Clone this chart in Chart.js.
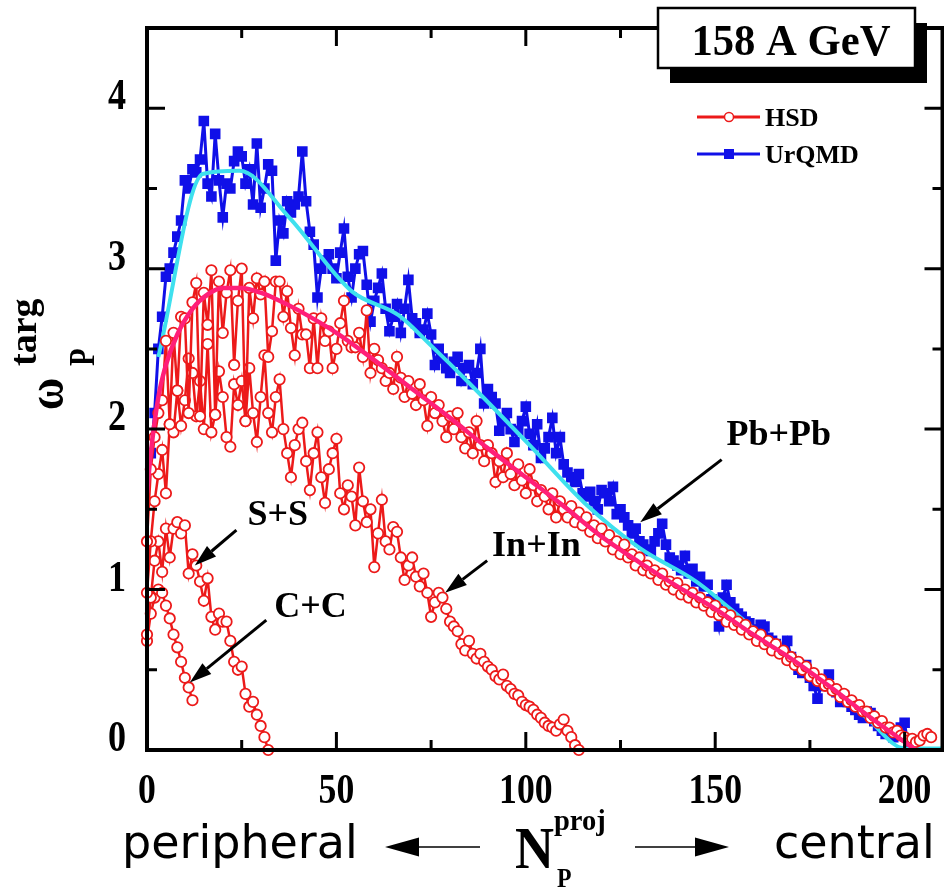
<!DOCTYPE html>
<html>
<head>
<meta charset="utf-8">
<script src="https://cdn.jsdelivr.net/npm/chart.js@4.4.1/dist/chart.umd.min.js"></script>
<style>
  html, body { margin: 0; padding: 0; background: #fff; overflow: hidden; }
  #wrap { width: 950px; height: 889px; }
</style>
</head>
<body>
<div id="wrap"><canvas id="chart" width="950" height="889"></canvas></div>
<script>
// omega_P^targ vs N_P^proj, 158 A GeV (HSD vs UrQMD)

// x ticks / y ticks
const xTickValues = [0, 25, 50, 75, 100, 125, 150, 175, 200];
const xTickLabels = ['0', '', '50', '', '100', '', '150', '', '200'];
const yTickValues = [0, 0.5, 1, 1.5, 2, 2.5, 3, 3.5, 4];
const yTickLabels = ['0', '', '1', '', '2', '', '3', '', '4'];

// HSD Pb+Pb, N_P^proj = 0,1,2,...
const pbHsdStart = 0;
const pbHsd = [
  1.3, 1.75, 1.95, 2.1, 2.18, 2.55, 2.03, 2.6, 2.24, 2.7,
  2.69, 2.1, 2.79, 2.91, 2.08, 2.85, 2.65, 2.99, 2.09, 2.92,
  2.6, 2.85, 2.99, 2.4, 2.8, 3.0, 2.05, 2.88, 2.69, 2.94,
  2.84, 2.92, 2.45, 2.61, 2.92, 2.92, 2.7, 2.86, 2.63, 2.46,
  2.75, 2.59, 2.59, 2.38, 2.69, 2.38, 2.69, 2.55, 2.61, 2.38,
  2.5, 2.66, 2.8, 2.55, 2.51, 2.51, 2.6, 2.45, 2.74, 2.35,
  2.5, 2.43, 2.38, 2.3, 2.35, 2.25, 2.45, 2.32, 2.2, 2.3,
  2.22, 2.15, 2.28, 2.18, 2.02, 2.2, 2.1, 2.15, 2.05, 1.95,
  2.08, 2.0, 2.1, 1.95, 1.88, 1.98, 1.85, 2.05, 1.9, 1.8,
  1.9, 1.85, 1.67, 1.8, 1.7, 1.85, 1.72, 1.65, 1.78, 1.68,
  1.6, 1.75, 1.65, 1.55, 1.62, 1.58, 1.5, 1.6, 1.45, 1.55,
  1.5, 1.45, 1.52, 1.42, 1.48, 1.4, 1.45, 1.36, 1.4, 1.32,
  1.38, 1.3, 1.34, 1.25, 1.3, 1.22, 1.28, 1.2, 1.22, 1.15,
  1.2, 1.12, 1.15, 1.1, 1.12, 1.06, 1.1, 1.03, 1.05, 1.0,
  1.04, 0.97, 1.0, 0.95, 0.98, 0.92, 0.95, 0.9, 0.92, 0.86,
  0.9, 0.84, 0.86, 0.8, 0.84, 0.78, 0.8, 0.75, 0.78, 0.72,
  0.74, 0.68, 0.72, 0.66, 0.68, 0.62, 0.66, 0.6, 0.62, 0.56,
  0.58, 0.53, 0.55, 0.5, 0.52, 0.46, 0.48, 0.43, 0.44, 0.4,
  0.41, 0.37, 0.38, 0.33, 0.35, 0.3, 0.31, 0.27, 0.28, 0.24,
  0.24, 0.2, 0.21, 0.17, 0.18, 0.14, 0.14, 0.11, 0.12, 0.09,
  0.08, 0.06, 0.07, 0.05, 0.06, 0.09, 0.1, 0.08
];

// HSD In+In
const inHsdStart = 0;
const inHsd = [
  0.98, 1.3, 1.55, 1.72, 1.87, 1.6, 2.03, 1.98, 2.24, 2.02,
  2.18, 2.44, 2.35, 2.08, 2.3, 2.0, 2.53, 1.98, 2.09, 2.36,
  2.2, 1.95, 1.89, 2.28, 2.15, 2.3, 2.05, 2.38, 2.1, 1.92,
  2.2, 2.46, 2.1, 1.98, 2.2, 2.31, 2.0, 1.85, 1.7, 1.9,
  2.0, 2.04, 1.8, 1.62, 1.85, 1.98, 1.7, 1.54, 1.75, 1.85,
  1.94, 1.6, 1.5, 1.65, 1.58, 1.4, 1.76, 1.55, 1.42, 1.5,
  1.14, 1.35, 1.56, 1.3, 1.25, 1.39, 1.36, 1.2, 1.06, 1.15,
  1.2, 1.08, 1.02, 1.1, 0.98, 0.83, 0.92, 0.98, 0.95, 0.88,
  0.8, 0.77, 0.74, 0.66, 0.62, 0.68, 0.6, 0.57, 0.6, 0.55,
  0.52, 0.5, 0.46, 0.44, 0.47, 0.4, 0.38, 0.35, 0.34, 0.3,
  0.28, 0.27, 0.25, 0.22, 0.2, 0.17, 0.15, 0.14, 0.12, 0.16,
  0.19, 0.12, 0.08, 0.03, 0.0
];

// HSD S+S
const ssHsdStart = 0;
const ssHsd = [
  0.72, 0.95, 1.18, 1.3, 1.11, 1.38, 1.2, 1.38, 1.42, 1.35,
  1.4, 1.1, 1.22, 1.15, 1.05, 0.93, 1.07, 0.83, 0.75, 0.85,
  0.8, 0.8, 0.68, 0.55, 0.5, 0.52, 0.35, 0.27, 0.3, 0.22,
  0.15, 0.08, 0.0
];

// HSD C+C
const ccHsdStart = 0;
const ccHsd = [0.68, 0.85, 0.95, 1.0, 0.98, 0.9, 0.82, 0.72, 0.64, 0.55, 0.45, 0.39, 0.31];

// UrQMD Pb+Pb, N_P^proj = 1,2,3,...
const pbUrqmdStart = 1;
const pbUrqmd = [
  1.85, 2.1, 2.5, 2.7, 2.95, 3.0, 3.1, 3.2, 3.3, 3.55,
  3.5, 3.62, 3.6, 3.68, 3.92, 3.53, 3.45, 3.84, 3.55, 3.32,
  3.53, 3.5, 3.67, 3.73, 3.7, 3.53, 3.62, 3.4, 3.78, 3.38,
  3.5, 3.65, 3.61, 3.05, 3.3, 3.22, 3.42, 3.35, 3.4, 3.45,
  3.73, 3.42, 3.23, 3.15, 2.82, 3.0, 3.05, 3.09, 3.0, 2.94,
  3.1, 3.25, 2.95, 2.82, 3.0, 3.09, 3.11, 2.9, 2.67, 2.8,
  2.88, 2.97, 2.75, 2.61, 2.7, 2.78, 2.6, 2.75, 2.93, 2.69,
  2.66, 2.6, 2.62, 2.72, 2.59, 2.4, 2.5, 2.44, 2.38, 2.35,
  2.42, 2.45, 2.3, 2.38, 2.4, 2.28, 2.35, 2.5, 2.16, 2.25,
  2.2, 2.16, 1.99, 2.05, 2.1, 2.0, 1.92, 1.99, 2.05, 2.14,
  1.97, 1.9, 2.03, 1.82, 1.88, 1.95, 2.07, 1.85, 1.95, 1.78,
  1.73, 1.7, 1.67, 1.72, 1.6, 1.58, 1.61, 1.55, 1.5, 1.62,
  1.6, 1.55, 1.64, 1.47, 1.5, 1.45, 1.4, 1.35, 1.38, 1.3,
  1.28, 1.25, 1.24, 1.3, 1.35, 1.41, 1.28, 1.2, 1.18, 1.15,
  1.12, 1.21, 1.1, 1.13, 1.05, 1.08, 1.02, 1.03, 0.94, 0.9,
  0.77, 0.95, 1.03, 0.92, 0.88, 0.85, 0.83, 0.8, 0.79, 0.75,
  0.72, 0.78, 0.77, 0.7, 0.68, 0.66, 0.62, 0.6, 0.68, 0.58,
  0.55, 0.5, 0.48, 0.53, 0.45, 0.4, 0.32, 0.4, 0.42, 0.47,
  0.38, 0.36, 0.3, 0.34, 0.3, 0.27, 0.25, 0.22, 0.2, 0.24,
  0.23, 0.18, 0.15, 0.12, 0.1, 0.12, 0.08, 0.1, 0.14, 0.17,
  0.0
];

// smooth curves
const urqmdFitX = [3, 14.7, 24.4, 37.5, 54, 66.4, 75, 84.5, 101, 115.5, 130, 145, 160, 175, 190, 200, 210];
const urqmdFitY = [2.45, 3.59, 3.61, 3.32, 2.86, 2.71, 2.52, 2.3, 1.9, 1.54, 1.26, 1.05, 0.76, 0.48, 0.2, 0.01, 0.01];
const hsdFitX = [0, 1, 3, 5, 8, 12, 16, 20, 25, 30, 35, 40, 50, 60, 70, 80, 90, 100, 110, 120, 130, 140, 150, 160, 170, 180, 190, 200, 203];
const hsdFitY = [1.6, 1.85, 2.2, 2.4, 2.59, 2.75, 2.84, 2.88, 2.88, 2.85, 2.8, 2.74, 2.6, 2.43, 2.25, 2.07, 1.88, 1.7, 1.52, 1.33, 1.17, 1.02, 0.88, 0.72, 0.57, 0.4, 0.22, 0.05, 0.0];

// text labels with arrows (data units)
const notes = [
  { text: 'Pb+Pb', tx: 153, ty: 1.9, from: [151.7, 1.81], to: [130.2, 1.42] },
  { text: 'In+In', tx: 91.1, ty: 1.21, from: [89.8, 1.18], to: [78.7, 0.98] },
  { text: 'S+S', tx: 26.5, ty: 1.4, from: [23.6, 1.37], to: [12.6, 1.15] },
  { text: 'C+C', tx: 33.6, ty: 0.83, from: [31.5, 0.81], to: [11.3, 0.42] }
];

const RED = '#ec1a1a';
const BLUE = '#1010e8';
const CYAN = '#3ee0ee';
const PINK = '#ff1f78';
const SERIF = '"Liberation Serif", "Times New Roman", serif';

function toPoints(start, ys) {
  return ys.map((v, i) => ({ x: start + i, y: v }));
}
function zipPoints(xs, ys) {
  return xs.map((v, i) => ({ x: v, y: ys[i] }));
}

function hsdSet(label, start, ys) {
  return {
    label: label,
    data: toPoints(start, ys),
    borderColor: RED,
    borderWidth: 2.5,
    pointStyle: 'circle',
    pointRadius: 5.2,
    pointBorderWidth: 1.8,
    pointBorderColor: RED,
    pointBackgroundColor: '#fff',
    order: 1,
    clip: false
  };
}

// draw text with horizontal squeeze (the original uses a condensed Times)
function txt(ctx, s, x, y, font, align, sx) {
  ctx.save();
  ctx.font = font;
  ctx.textAlign = align || 'left';
  ctx.textBaseline = 'alphabetic';
  ctx.translate(x, y);
  ctx.scale(sx || 1, 1);
  ctx.fillText(s, 0, 0);
  ctx.restore();
}

function arrow(ctx, x1, y1, x2, y2, head, half, lw) {
  const ang = Math.atan2(y2 - y1, x2 - x1);
  const bx = x2 - head * Math.cos(ang), by = y2 - head * Math.sin(ang);
  ctx.save();
  ctx.lineWidth = lw;
  ctx.beginPath();
  ctx.moveTo(x1, y1);
  ctx.lineTo(bx, by);
  ctx.stroke();
  ctx.beginPath();
  ctx.moveTo(x2, y2);
  ctx.lineTo(bx + half * Math.sin(ang), by - half * Math.cos(ang));
  ctx.lineTo(bx - half * Math.sin(ang), by + half * Math.cos(ang));
  ctx.closePath();
  ctx.fill();
  ctx.restore();
}

const framePlugin = {
  id: 'frame',
  afterDatasetsDraw(chart) {
    const { ctx, chartArea: a, scales: { x, y } } = chart;
    ctx.save();
    ctx.strokeStyle = '#000';
    ctx.lineWidth = 4;
    ctx.strokeRect(a.left, a.top, a.right - a.left, a.bottom - a.top);
    ctx.lineWidth = 3;
    xTickValues.forEach((v, i) => {
      const px = x.getPixelForValue(v);
      const len = xTickLabels[i] ? 18 : 10;
      ctx.beginPath();
      ctx.moveTo(px, a.bottom); ctx.lineTo(px, a.bottom - len);
      ctx.moveTo(px, a.top); ctx.lineTo(px, a.top + len);
      ctx.stroke();
    });
    yTickValues.forEach((v, i) => {
      const py = y.getPixelForValue(v);
      const len = yTickLabels[i] ? 18 : 10;
      ctx.beginPath();
      ctx.moveTo(a.left, py); ctx.lineTo(a.left + len, py);
      ctx.moveTo(a.right, py); ctx.lineTo(a.right - len, py);
      ctx.stroke();
    });
    ctx.restore();
  },
  afterDraw(chart) {
    const { ctx, chartArea: a, scales: { x, y } } = chart;
    ctx.save();
    ctx.fillStyle = '#000';
    ctx.strokeStyle = '#000';

    // tick labels
    xTickValues.forEach((v, i) => {
      if (xTickLabels[i]) txt(ctx, xTickLabels[i], x.getPixelForValue(v), 803, 'bold 42px ' + SERIF, 'center', 0.85);
    });
    yTickValues.forEach((v, i) => {
      if (yTickLabels[i]) txt(ctx, yTickLabels[i], 126, y.getPixelForValue(v) + 1, 'bold 44px ' + SERIF, 'right', 0.82);
    });

    // y axis title: omega_P^targ (rotated)
    ctx.save();
    ctx.translate(63, 410);
    ctx.rotate(-Math.PI / 2);
    txt(ctx, 'ω', 0, 0, 'bold 50px ' + SERIF, 'left', 0.88);
    txt(ctx, 'P', 44, 31, 'bold 36px ' + SERIF, 'left', 0.8);
    txt(ctx, 'targ', 44, -27, 'bold 38px ' + SERIF, 'left', 1);
    ctx.restore();

    // x axis title: peripheral <- N_P^proj -> central
    txt(ctx, 'peripheral', 122, 858, '46px "DejaVu Sans", sans-serif', 'left', 1);
    txt(ctx, 'central', 774, 858, '46px "DejaVu Sans", sans-serif', 'left', 1);
    txt(ctx, 'N', 515, 868, 'bold 60px ' + SERIF, 'left', 0.9);
    txt(ctx, 'proj', 554, 830, 'bold 30px ' + SERIF, 'left', 0.95);
    txt(ctx, 'P', 557, 887, 'bold 28px ' + SERIF, 'left', 0.85);
    arrow(ctx, 480, 847, 385, 847, 34, 9.5, 1.5);
    arrow(ctx, 635, 847, 729, 847, 34, 9.5, 1.5);

    // title box with drop shadow
    ctx.fillRect(670, 23, 257, 60);
    ctx.fillStyle = '#fff';
    ctx.fillRect(658, 8, 257, 60);
    ctx.lineWidth = 2.5;
    ctx.strokeRect(658, 8, 257, 60);
    ctx.fillStyle = '#000';
    txt(ctx, '158 A GeV', 791, 55, 'bold 44px ' + SERIF, 'center', 0.97);

    // legend
    const legend = [
      { name: 'HSD', color: RED, style: 'circle', y: 117 },
      { name: 'UrQMD', color: BLUE, style: 'rect', y: 154 }
    ];
    legend.forEach(it => {
      ctx.strokeStyle = it.color;
      ctx.lineWidth = 3;
      ctx.beginPath();
      ctx.moveTo(697, it.y); ctx.lineTo(760, it.y);
      ctx.stroke();
      if (it.style === 'circle') {
        ctx.fillStyle = '#fff';
        ctx.lineWidth = 1.5;
        ctx.beginPath();
        ctx.arc(729, it.y, 4.5, 0, Math.PI * 2);
        ctx.fill(); ctx.stroke();
      } else {
        ctx.fillStyle = it.color;
        ctx.fillRect(724, it.y - 5, 10, 10);
      }
      ctx.fillStyle = '#000';
      txt(ctx, it.name, 765, it.y + 9, 'bold 26px ' + SERIF, 'left', 1);
    });

    // system labels with arrows
    ctx.fillStyle = '#000';
    ctx.strokeStyle = '#000';
    notes.forEach(n => {
      txt(ctx, n.text, x.getPixelForValue(n.tx), y.getPixelForValue(n.ty), 'bold 36px ' + SERIF, 'left', 1);
      arrow(ctx,
        x.getPixelForValue(n.from[0]), y.getPixelForValue(n.from[1]),
        x.getPixelForValue(n.to[0]), y.getPixelForValue(n.to[1]), 22, 7, 3);
    });
    ctx.restore();
  }
};

const chart = new Chart(document.getElementById('chart'), {
  type: 'line',
  data: {
    datasets: [
      {
        label: 'HSD fit',
        data: zipPoints(hsdFitX, hsdFitY),
        borderColor: PINK,
        borderWidth: 4.5,
        pointRadius: 0,
        cubicInterpolationMode: 'monotone',
        order: 0
      },
      hsdSet('HSD Pb+Pb', pbHsdStart, pbHsd),
      hsdSet('HSD In+In', inHsdStart, inHsd),
      hsdSet('HSD S+S', ssHsdStart, ssHsd),
      hsdSet('HSD C+C', ccHsdStart, ccHsd),
      {
        label: 'UrQMD fit',
        data: zipPoints(urqmdFitX, urqmdFitY),
        borderColor: CYAN,
        borderWidth: 4,
        pointRadius: 0,
        cubicInterpolationMode: 'monotone',
        order: 2
      },
      {
        label: 'UrQMD Pb+Pb',
        data: toPoints(pbUrqmdStart, pbUrqmd),
        borderColor: BLUE,
        borderWidth: 3,
        pointStyle: 'rect',
        pointRadius: 7.5,
        pointBorderWidth: 0,
        pointBackgroundColor: BLUE,
        order: 3
      }
    ]
  },
  options: {
    responsive: false,
    animation: false,
    devicePixelRatio: 1,
    layout: { padding: { left: 147, top: 28, right: 3, bottom: 139 } },
    scales: {
      x: { type: 'linear', min: 0, max: 210, display: false },
      y: { type: 'linear', min: 0, max: 4.5, display: false }
    },
    plugins: {
      legend: { display: false },
      tooltip: { enabled: false }
    }
  },
  plugins: [framePlugin]
});
</script>
</body>
</html>
